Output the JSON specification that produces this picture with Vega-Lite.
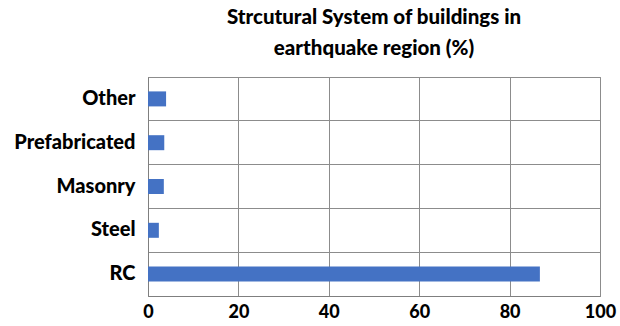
{
  "$schema": "https://vega.github.io/schema/vega-lite/v6.json",
  "autosize": {"type": "none"},
  "width": 452,
  "height": 219,
  "padding": {"left": 148, "top": 77, "right": 20, "bottom": 30},
  "background": "white",
  "title": {
    "text": ["Strcutural System of buildings in", "earthquake region (%)"],
    "font": "Lato",
    "fontSize": 20.5,
    "fontWeight": 900,
    "color": "#000000",
    "lineHeight": 31,
    "offset": 18,
    "anchor": "middle"
  },
  "config": {
    "view": {"stroke": "#8c8c8c", "strokeWidth": 1},
    "axis": {
      "labelFont": "Lato",
      "labelFontSize": 20,
      "labelFontWeight": 900,
      "labelColor": "#000000",
      "gridColor": "#8c8c8c",
      "gridWidth": 1,
      "gridOpacity": 1,
      "domainColor": "#7f7f7f",
      "ticks": false,
      "title": null
    }
  },
  "data": {
    "values": [
      {"system": "Other", "percent": 4.0},
      {"system": "Prefabricated", "percent": 3.6},
      {"system": "Masonry", "percent": 3.5},
      {"system": "Steel", "percent": 2.4},
      {"system": "RC", "percent": 86.7}
    ]
  },
  "mark": {"type": "bar", "color": "#4472C4", "size": 15},
  "encoding": {
    "y": {
      "field": "system",
      "type": "nominal",
      "sort": ["Other", "Prefabricated", "Masonry", "Steel", "RC"],
      "scale": {"paddingInner": 0, "paddingOuter": 0},
      "axis": {"bandPosition": 0, "labelOffset": 0, "grid": true, "labelPadding": 13, "domain": true}
    },
    "x": {
      "field": "percent",
      "type": "quantitative",
      "scale": {"domain": [0, 100], "nice": false},
      "axis": {"values": [0, 20, 40, 60, 80, 100], "grid": true, "labelPadding": 7, "labelFlush": false, "labelFontSize": 18}
    }
  }
}
